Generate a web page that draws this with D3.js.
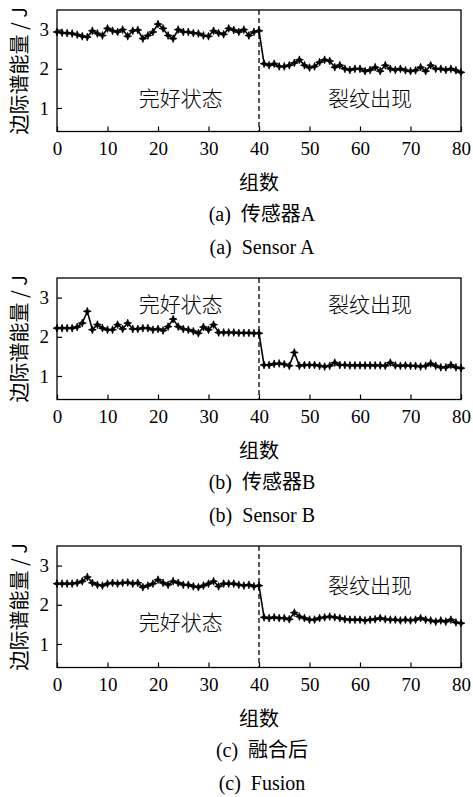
<!DOCTYPE html>
<html>
<head>
<meta charset="utf-8">
<script src="https://cdn.jsdelivr.net/npm/d3@7"></script>
<style>
html,body{margin:0;padding:0;background:#fff;}
text{font-family:"Liberation Serif","Noto Sans CJK SC",serif;fill:#000;}
.cjk{font-family:"Noto Sans CJK SC","Liberation Serif",sans-serif;}
.pre{white-space:pre;}
</style>
</head>
<body>
<svg id="chart" width="473" height="797"></svg>
<script>
// ---- data ----
const groups = d3.range(0, 81);
const xTicks = [0, 10, 20, 30, 40, 50, 60, 70, 80];
const yTicks = [1, 2, 3];
const sensorA = [2.94,2.92,2.91,2.90,2.87,2.83,2.81,2.97,2.90,2.85,
  3.03,2.97,2.94,3.00,2.83,2.97,2.99,2.77,2.85,2.94,
  3.14,3.03,2.85,2.77,3.00,2.94,2.94,2.91,2.90,2.85,
  2.83,2.97,2.91,2.88,3.03,2.99,2.94,3.00,2.85,2.94,
  2.97,
  2.13,2.09,2.13,2.06,2.06,2.09,2.15,2.23,2.09,2.03,
  2.06,2.17,2.23,2.20,2.04,2.09,2.00,1.97,2.00,2.00,
  1.94,1.97,2.04,1.94,2.09,2.00,1.97,2.00,1.96,1.94,
  1.96,2.04,1.94,2.09,2.00,2.00,1.97,2.00,1.96,1.91];
const sensorB = [2.22,2.22,2.22,2.22,2.25,2.35,2.65,2.18,2.31,2.22,
  2.18,2.18,2.31,2.20,2.35,2.20,2.20,2.22,2.22,2.18,
  2.20,2.16,2.26,2.45,2.26,2.20,2.18,2.14,2.09,2.25,
  2.18,2.31,2.11,2.11,2.11,2.11,2.10,2.10,2.10,2.09,
  2.09,
  1.28,1.28,1.31,1.32,1.30,1.26,1.60,1.26,1.28,1.28,
  1.28,1.26,1.24,1.26,1.34,1.28,1.28,1.27,1.27,1.27,
  1.27,1.27,1.27,1.27,1.26,1.34,1.27,1.26,1.27,1.26,
  1.26,1.24,1.26,1.32,1.26,1.22,1.22,1.28,1.22,1.20];
const fusion = [2.54,2.54,2.54,2.54,2.56,2.60,2.71,2.56,2.51,2.49,
  2.54,2.56,2.54,2.56,2.57,2.54,2.56,2.45,2.49,2.54,
  2.64,2.56,2.51,2.60,2.56,2.51,2.51,2.47,2.45,2.49,
  2.54,2.60,2.47,2.54,2.54,2.54,2.51,2.49,2.51,2.47,
  2.49,
  1.68,1.66,1.68,1.66,1.66,1.63,1.80,1.70,1.66,1.62,
  1.62,1.66,1.68,1.70,1.68,1.66,1.63,1.62,1.62,1.62,
  1.60,1.62,1.63,1.66,1.63,1.62,1.62,1.60,1.62,1.60,
  1.62,1.66,1.62,1.60,1.57,1.60,1.57,1.62,1.55,1.53];
const seriesList = [sensorA, sensorB, fusion];
const captionsCN = ["(a)  传感器A", "(b)  传感器B", "(c)  融合后"];
const captionsEN = ["(a)  Sensor A", "(b)  Sensor B", "(c)  Fusion"];
const stateLabels = ["完好状态", "裂纹出现"];
const stateLabelPos = [ // [x, y] in data units for each panel
  [[24.5, 1.27], [62, 1.27]],
  [[24.5, 2.85], [62, 2.85]],
  [[24.5, 1.58], [62, 2.54]]
];
const crackGroup = 40;
const xLabel = "组数";
const yLabel = "边际谱能量 / J";

// ---- layout ----
const svg = d3.select("#chart");
const L = 57, R = 461, T = 10, B = 131.5;
const panelStep = 268;

const x = d3.scaleLinear().domain([0, 80]).range([L, R]);
const y = d3.scaleLinear().domain([0.4, 3.5]).range([B, T]);

// 4-point star marker
const star = (() => {
  const ro = 3.9, ri = 1.5, pts = [];
  for (let k = 0; k < 8; k++) {
    const a = k * Math.PI / 4 - Math.PI / 2;
    const r = k % 2 === 0 ? ro : ri;
    pts.push([r * Math.cos(a), r * Math.sin(a)]);
  }
  return "M" + pts.map(p => p[0].toFixed(2) + "," + p[1].toFixed(2)).join("L") + "Z";
})();

seriesList.forEach((vals, p) => {
  const g = svg.append("g").attr("transform", `translate(0,${p * panelStep})`);

  // frame
  g.append("rect").attr("x", L).attr("y", T).attr("width", R - L).attr("height", B - T)
    .attr("fill", "none").attr("stroke", "#000").attr("stroke-width", 1.3);

  // x axis (ticks inward)
  const xa = g.append("g").attr("transform", `translate(0,${B})`)
    .call(d3.axisBottom(x).tickValues(xTicks).tickSize(-5).tickPadding(10).tickFormat(d3.format("d")));
  xa.select(".domain").remove();
  xa.selectAll("line").attr("stroke", "#000").attr("stroke-width", 1.2);
  xa.selectAll("text").attr("font-size", 19).attr("font-family", "Liberation Serif");

  // y axis
  const ya = g.append("g").attr("transform", `translate(${L},0)`)
    .call(d3.axisLeft(y).tickValues(yTicks).tickSize(-5).tickPadding(8).tickFormat(d3.format("d")));
  ya.select(".domain").remove();
  ya.selectAll("line").attr("stroke", "#000").attr("stroke-width", 1.2);
  ya.selectAll("text").attr("font-size", 19).attr("font-family", "Liberation Serif");

  // dashed crack line
  g.append("line").attr("x1", x(crackGroup)).attr("x2", x(crackGroup))
    .attr("y1", T).attr("y2", B).attr("stroke", "#000").attr("stroke-width", 1.3)
    .attr("stroke-dasharray", "5,3");

  // data line
  const line = d3.line().x((d, i) => x(groups[i])).y(d => y(d));
  g.append("path").datum(vals).attr("d", line).attr("fill", "none")
    .attr("stroke", "#000").attr("stroke-width", 1.6);
  g.selectAll(".mk").data(vals).enter().append("path")
    .attr("d", star).attr("transform", (d, i) => `translate(${x(groups[i])},${y(d)})`)
    .attr("fill", "#000").attr("stroke", "#000").attr("stroke-width", 0.8);

  // state labels
  stateLabels.forEach((t, k) => {
    const pos = stateLabelPos[p][k];
    g.append("text").attr("class", "cjk").attr("x", x(pos[0])).attr("y", y(pos[1]))
      .attr("text-anchor", "middle").attr("dominant-baseline", "central")
      .attr("font-size", 21).attr("font-weight", 300).attr("fill", "#222").text(t);
  });

  // y label
  g.append("text").attr("class", "cjk")
    .attr("transform", `translate(18,${(T + B) / 2}) rotate(-90)`)
    .attr("text-anchor", "middle").attr("dominant-baseline", "central")
    .attr("font-size", 20).text(yLabel);

  // x label
  g.append("text").attr("class", "cjk").attr("x", x(40)).attr("y", 181)
    .attr("text-anchor", "middle").attr("dominant-baseline", "central")
    .attr("font-size", 20).text(xLabel);

  // captions
  g.append("text").attr("class", "pre").attr("x", x(40) + 3).attr("y", 214)
    .attr("text-anchor", "middle").attr("dominant-baseline", "central")
    .attr("font-size", 20).text(captionsCN[p]);
  g.append("text").attr("class", "pre").attr("x", x(40) + 3).attr("y", 247)
    .attr("text-anchor", "middle").attr("dominant-baseline", "central")
    .attr("font-size", 20).text(captionsEN[p]);
});
</script>
</body>
</html>
